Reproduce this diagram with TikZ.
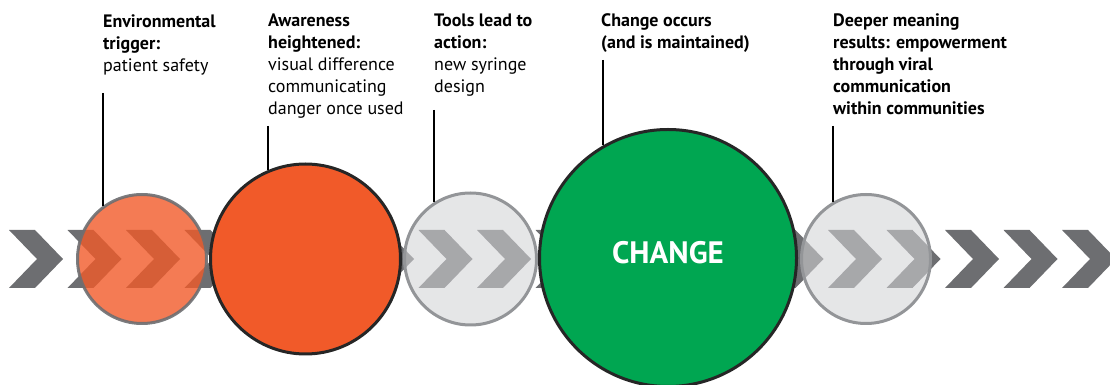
\documentclass[tikz,border=0pt]{standalone}
\usepackage{fontspec}
\setmainfont{PT Sans}
\usepackage{xcolor}

\definecolor{chevgray}{HTML}{6D6E71}
\definecolor{stageorange}{HTML}{F15A29}
\definecolor{stagegreen}{HTML}{00A651}
\definecolor{stagelight}{RGB}{210,211,213}
\definecolor{rimgray}{HTML}{939598}

\begin{document}
\begin{tikzpicture}[x=1pt, y=1pt,
      stage/.style = {circle, inner sep=0pt, line width=3pt},
      caption/.style = {anchor=base west, align=left, inner sep=0pt,
                        font=\fontsize{18}{22}\selectfont},
      leader/.style = {draw=black, line width=1.1pt}
      ]
      \clip (0,0) rectangle (1110,385);
      % row of chevrons
      \foreach \i in {0,...,18}
            \fill[chevgray, xshift=\i*58.5] (9,155) -- (35,155) -- (63,126)
                  -- (35,97) -- (9,97) -- (37,126) -- cycle;
      % the five stages
      \node[stage, minimum size=129, fill=stageorange, fill opacity=0.8,
            draw=chevgray, draw opacity=0.9] (c1) at (142,126) {};
      \node[stage, minimum size=190, fill=stageorange, draw=black!85] (c2) at (305.5,126) {};
      \node[stage, minimum size=132, fill=stagelight, fill opacity=0.575,
            draw=rimgray] (c3) at (470.5,126) {};
      \node[stage, minimum size=257, fill=stagegreen, draw=black!85] (c4) at (668,127) {};
      \node[stage, minimum size=129, fill=stagelight, fill opacity=0.575,
            draw=rimgray] (c5) at (866,126) {};
      \node[text=white, font=\fontsize{31}{34}\selectfont\bfseries] (change)
            at ([yshift=5]c4.center) {CHANGE};
      % captions (placed at the baseline of their last line)
      \node[caption] (trigger) at (103,313)
            {\textbf{Environmental}\\\textbf{trigger:}\\patient safety};
      \node[caption] (aware) at (268,270)
            {\textbf{Awareness}\\\textbf{heightened:}\\visual difference\\communicating\\danger once used};
      \node[caption] (tools) at (434,292)
            {\textbf{Tools lead to}\\\textbf{action:}\\new syringe\\design};
      \node[caption] (occurs) at (601,336)
            {\textbf{Change occurs}\\\textbf{(and is maintained)}};
      \node[caption] (deeper) at (833,270)
            {\textbf{Deeper meaning}\\\textbf{results: empowerment}\\\textbf{through viral}\\\textbf{communication}\\\textbf{within communities}};
      % leader lines
      \coordinate (l1) at (103,292);
      \coordinate (l2) at (268,259);
      \coordinate (l3) at (434,275);
      \coordinate (l4) at (603,325);
      \coordinate (l5) at (833,259);
      \draw[leader] (l1) -- (l1 |- c1.126);
      \draw[leader] (l2) -- (l2 |- c2.113);
      \draw[leader] (l3) -- (l3 |- c3.123);
      \draw[leader] (l4) -- (l4 |- c4.120);
      \draw[leader] (l5) -- (l5 |- c5.120);
\end{tikzpicture}
\end{document}
